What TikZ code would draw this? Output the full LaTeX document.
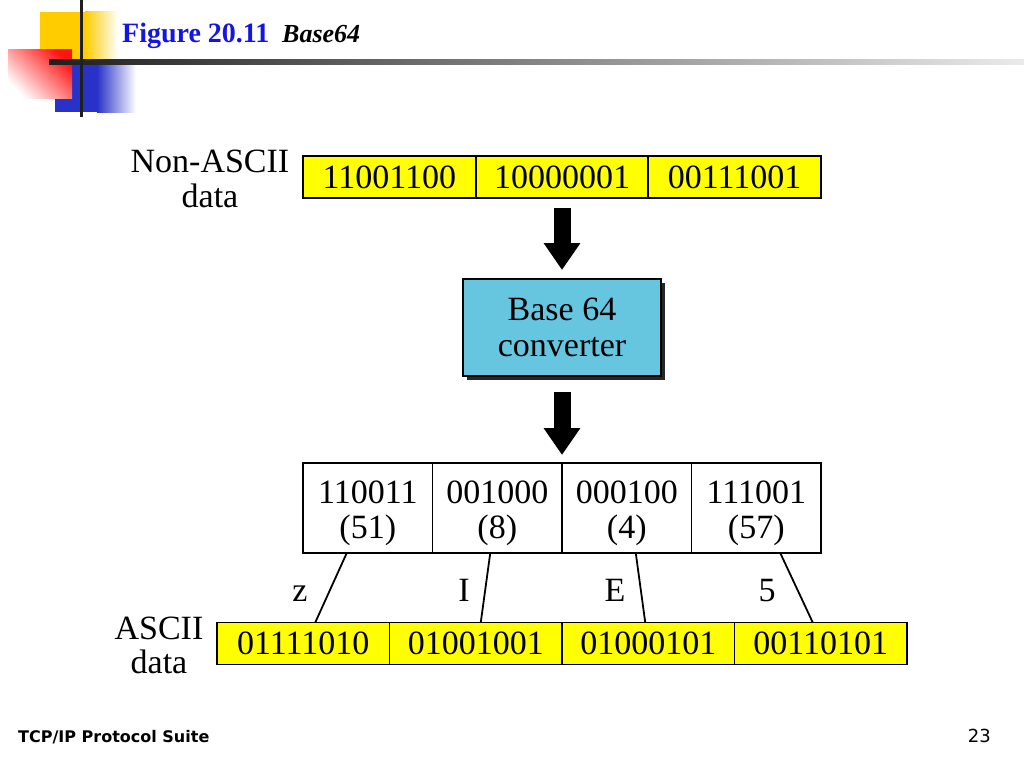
\documentclass[tikz,border=0pt]{standalone}
\usepackage{fontspec}
\setmainfont{Liberation Serif}
\newfontfamily\footfont{DejaVu Sans}
\usetikzlibrary{arrows.meta,shadows}
\definecolor{titleblue}{RGB}{20,20,230}
\definecolor{convblue}{RGB}{102,198,224}
\definecolor{cellyellow}{RGB}{255,255,0}
\definecolor{decoyellow}{RGB}{255,204,0}
\definecolor{decoblue}{RGB}{40,50,200}
\definecolor{decored}{RGB}{255,20,20}
\begin{document}
\begin{tikzpicture}[x=1pt,y=-1pt,
  big/.style={font=\fontsize{34}{36}\selectfont},
  lbl/.style={big, inner sep=0, anchor=base},
  cell/.style={big, draw=black, line width=1.8pt, inner sep=0, outer sep=0, anchor=west},
  ycell/.style={cell, fill=cellyellow, minimum height=42pt},
  ytop/.style={ycell, minimum width=172.67pt},
  ybot/.style={ycell, minimum width=172.5pt},
  mcell/.style={cell, fill=white, minimum width=129.5pt, minimum height=90pt},
  blockarrow/.style={line width=17pt, -{Triangle[width=35pt,length=27pt]}},
  link/.style={line width=1.8pt},
]
\useasboundingbox (0,0) rectangle (1024,768);

% decoration
\fill[decoyellow] (40,12) rectangle (85,62);
\shade[left color=decoyellow, right color=white] (85,12) rectangle (118,62);
\fill[decoblue] (55,63) rectangle (97,112);
\shade[left color=decoblue, right color=white] (97,63) rectangle (136,112);
\shade[shading=axis, top color=decored, bottom color=white, shading angle=-45] (8,50) rectangle (72,98);
\shade[left color=black!88, right color=black!8] (49,59) rectangle (1024,64);
\draw[line width=3pt, black!88] (81,0) -- (81,117);

% title
\node[anchor=base west, inner sep=0, text=titleblue, font=\fontsize{28}{30}\selectfont\bfseries] (title) at (122,42) {Figure 20.11};
\node[anchor=base west, inner sep=0, font=\fontsize{26}{30}\selectfont\bfseries\itshape] (sub) at (282,42) {Base64};

% top row
\node[ytop] (t1) at (303,177) {11001100};
\node[ytop] (t2) at (t1.east) {10000001};
\node[ytop] (t3) at (t2.east) {00111001};
\node[lbl] (lt1) at (210,172) {Non-ASCII};
\node[lbl] (lt2) at (210,207) {data};

% converter
\node[big, draw=black, line width=1.8pt, fill=convblue, minimum width=198pt, minimum height=97pt,
      align=center, inner sep=0, outer sep=0,
      drop shadow={shadow xshift=4pt, shadow yshift=-4pt, fill=black!85, opacity=1}]
      (conv) at (562,327.5) {Base 64\\converter};

\draw[blockarrow, shorten <=10pt, shorten >=9pt] (t2.south) -- (t2.south |- conv.north);

% middle row
\node[mcell] (m1) at (303,508) {};
\node[mcell] (m2) at (m1.east) {};
\node[mcell] (m3) at (m2.east) {};
\node[mcell] (m4) at (m3.east) {};
\foreach \c/\a/\b in {m1/110011/(51), m2/001000/(8), m3/000100/(4), m4/111001/(57)} {
  \node[lbl] (\c a) at ([yshift=5pt]\c.center) {\a};
  \node[lbl] (\c b) at ([yshift=-30pt]\c.center) {\b};
}

\draw[blockarrow, shorten <=16pt, shorten >=8pt] (conv.south) -- (conv.south |- m2.north);

% bottom row
\node[ybot] (b1) at (217,643.5) {01111010};
\node[ybot] (b2) at (b1.east) {01001001};
\node[ybot] (b3) at (b2.east) {01000101};
\node[ybot] (b4) at (b3.east) {00110101};
\node[lbl] (lb1) at (159,639) {ASCII};
\node[lbl] (lb2) at (159,673) {data};

% links
\draw[link] ([xshift=-21pt]m1.south) -- ([xshift=12pt]b1.north);
\draw[link] ([xshift=-7pt]m2.south) -- ([xshift=5pt]b2.north);
\draw[link] ([xshift=9pt]m3.south) -- ([xshift=-3pt]b3.north);
\draw[link] ([xshift=24pt]m4.south) -- ([xshift=-8pt]b4.north);
\node[lbl] (cz) at (300,601) {z};
\node[lbl] (ci) at (464,601) {I};
\node[lbl] (ce) at (615,601) {E};
\node[lbl] (c5) at (767,601) {5};

% footer
\node[anchor=base west, inner sep=0, font=\footfont\bfseries\fontsize{16}{18}\selectfont] (foot) at (18,742) {TCP/IP Protocol Suite};
\node[anchor=base east, inner sep=0, font=\footfont\fontsize{18}{20}\selectfont] (page) at (991,742) {23};
\end{tikzpicture}
\end{document}
